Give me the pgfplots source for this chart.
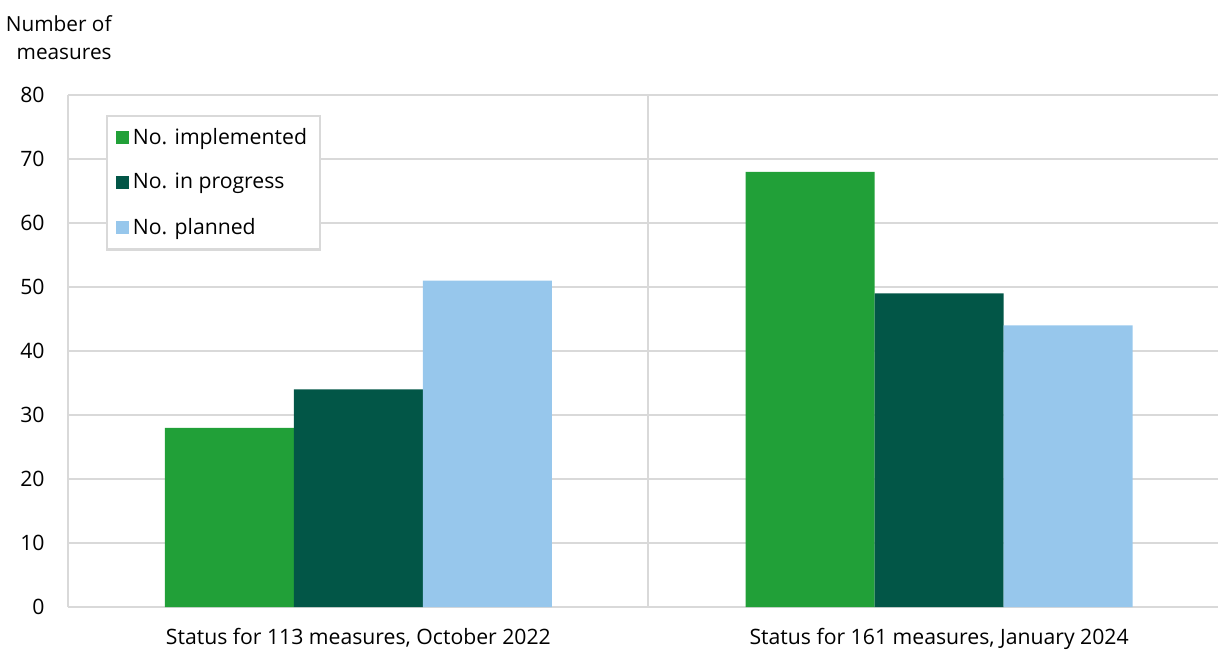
\documentclass[border=0pt]{standalone}
\usepackage{pgfplots}
\pgfplotsset{compat=1.18}
\usepackage{fontspec}
\setmainfont{Open Sans}
\definecolor{cimpl}{RGB}{33,160,56}
\definecolor{cprog}{RGB}{2,86,71}
\definecolor{cplan}{RGB}{151,199,236}
\definecolor{cgrid}{RGB}{217,217,217}
\begin{document}
\fontsize{10.6}{12}\selectfont
\begin{tikzpicture}
\begin{axis}[
  scale only axis,
  width=575pt, height=256pt,
  ybar=0pt, bar width=64.5pt,
  xmin=-0.5, xmax=1.5,
  ymin=0, ymax=80,
  ytick={0,10,...,80},
  xtick={0.005,1.015},
  xticklabels={{Status for 113 measures, October 2022},{Status for 161 measures, January 2024}},
  minor xtick={-0.5,0.509},
  ymajorgrids, xminorgrids,
  grid style={cgrid, line width=1.1pt},
  minor grid style={cgrid, line width=1.1pt},
  axis line style={draw=none},
  major tick length=0pt, minor tick length=0pt,
  tick style={draw=none},
  /pgf/number format/assume math mode=true,
  ticklabel style={font=\fontsize{10.6}{12}\selectfont},
  yticklabel style={anchor=east, inner sep=0pt, xshift=-11.5pt},
  xticklabel style={anchor=north, inner sep=0pt, yshift=-10.5pt},
  legend style={at={(0,1)}, anchor=north west, xshift=19pt, yshift=-10pt,
    draw=cgrid, line width=1.1pt, font=\fontsize{10.6}{12}\selectfont,
    row sep=9pt, inner xsep=4.5pt, inner ysep=4pt, cells={anchor=west}},
  legend image code/.code={\fill[#1] (0pt,-3.2pt) rectangle (6.4pt,3.2pt);},
]
\addplot[fill=cimpl, draw=none] coordinates {(0.005,28) (1.015,68)};
\addplot[fill=cprog, draw=none] coordinates {(0.005,34) (1.015,49)};
\addplot[fill=cplan, draw=none] coordinates {(0.005,51) (1.015,44)};
\legend{No. implemented, No. in progress, No. planned}
\end{axis}
\node[anchor=north east, align=right, inner sep=0pt, font=\fontsize{10.4}{14}\selectfont] at (22pt,296pt) {Number of\\measures};
\pgfresetboundingbox
\path (-34pt,-21.5pt) rectangle (575pt,303.5pt);
\end{tikzpicture}
\end{document}
